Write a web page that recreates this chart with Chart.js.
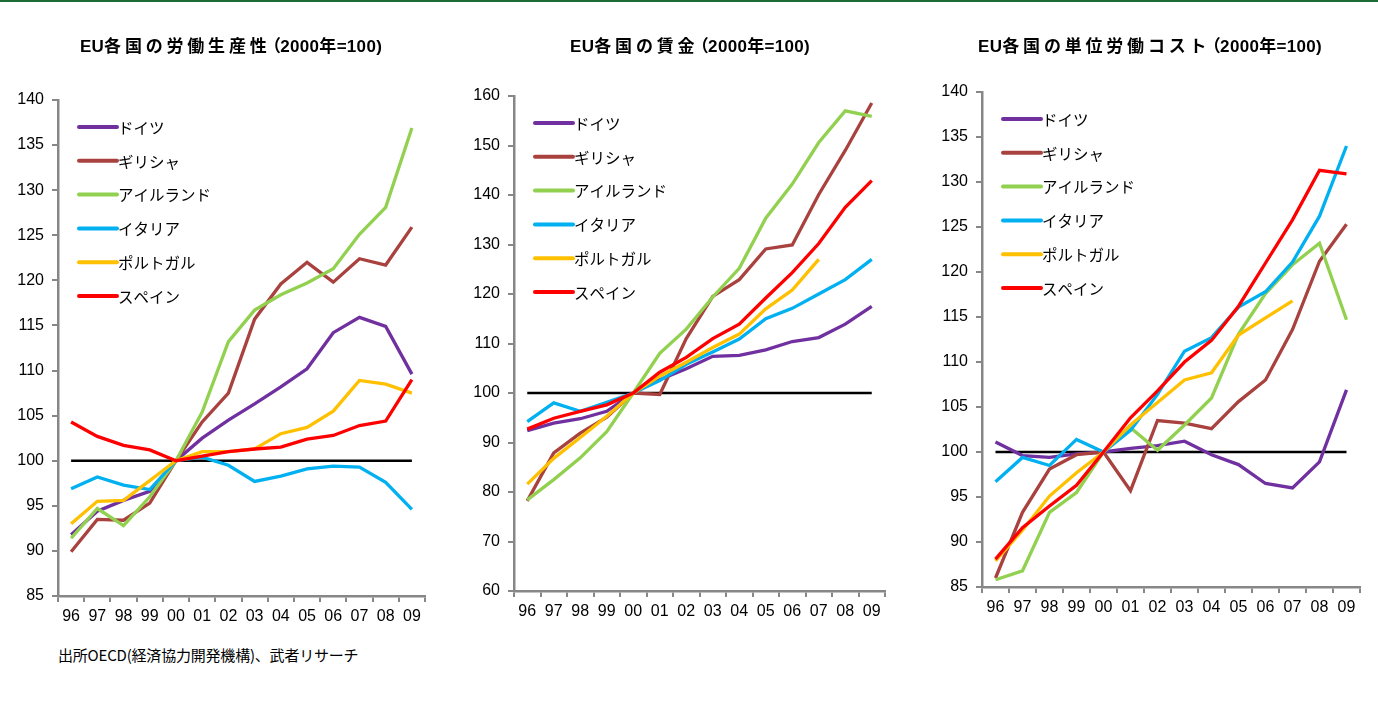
<!DOCTYPE html>
<html>
<head>
<meta charset="utf-8">
<script src="https://cdn.jsdelivr.net/npm/chart.js@4.4.1/dist/chart.umd.min.js"></script>
<style>
  html, body { margin: 0; padding: 0; background: #fff; }
  body { width: 1378px; height: 713px; position: relative; overflow: hidden; font-family: "Noto Sans CJK JP", sans-serif; }
  #topRule { position: absolute; left: 0; top: 0; width: 1378px; height: 2px; background: #1d6b36; }
  .box { position: absolute; top: 0; }
  #note { position: absolute; left: 58px; top: 644px; font-size: 15px; line-height: 22px; color: #000; letter-spacing: -0.2px; }
</style>
</head>
<body>
<div id="topRule"></div>
<div class="box" id="b1" style="left:0px;width:462px;height:640px"><canvas id="c1"></canvas></div>
<div class="box" id="b2" style="left:460px;width:460px;height:635px"><canvas id="c2"></canvas></div>
<div class="box" id="b3" style="left:925px;width:450px;height:631px"><canvas id="c3"></canvas></div>
<div id="note">出所OECD(経済協力開発機構)、武者リサーチ</div>
<script>
// ---- categories and series ----
const years = ['96', '97', '98', '99', '00', '01', '02', '03', '04', '05', '06', '07', '08', '09'];
const countries = ['ドイツ', 'ギリシャ', 'アイルランド', 'イタリア', 'ポルトガル', 'スペイン'];
const seriesColors = ['#7030a0', '#a9423f', '#92d050', '#00b0f0', '#ffc000', '#ff0000'];
const baseLine = [100, 100, 100, 100, 100, 100, 100, 100, 100, 100, 100, 100, 100, 100];

// 労働生産性
const prodGermany  = [91.8, 94.4, 95.6, 96.6, 100, 102.5, 104.5, 106.3, 108.2, 110.2, 114.2, 115.9, 114.9, 109.6];
const prodGreece   = [89.9, 93.5, 93.4, 95.3, 100, 104.3, 107.5, 115.7, 119.6, 122.0, 119.8, 122.4, 121.7, 125.9];
const prodIreland  = [91.4, 94.7, 92.8, 96.0, 100, 105.4, 113.2, 116.7, 118.4, 119.7, 121.3, 125.1, 128.1, 136.9];
const prodItaly    = [96.9, 98.2, 97.3, 96.8, 100, 100.4, 99.5, 97.7, 98.3, 99.1, 99.4, 99.3, 97.6, 94.6];
const prodPortugal = [93.0, 95.5, 95.6, 97.8, 100, 101.0, 101.0, 101.3, 103.0, 103.7, 105.5, 108.9, 108.5, 107.5];
const prodSpain    = [104.3, 102.7, 101.7, 101.2, 100, 100.5, 101.0, 101.3, 101.5, 102.4, 102.8, 103.9, 104.4, 109.0];

// 賃金
const wageGermany  = [92.4, 93.9, 94.8, 96.3, 100, 102.7, 104.9, 107.4, 107.6, 108.7, 110.4, 111.2, 113.9, 117.5];
const wageGreece   = [78.2, 87.9, 91.9, 95.1, 100, 99.7, 111.0, 119.5, 122.9, 129.1, 129.9, 140.1, 149.0, 158.6];
const wageIreland  = [78.4, 82.5, 86.9, 92.2, 100, 108.0, 112.9, 119.4, 125.2, 135.3, 142.2, 150.6, 157.0, 155.9];
const wageItaly    = [94.2, 98.0, 96.3, 98.1, 100, 102.5, 105.8, 108.3, 110.9, 115.0, 117.1, 120.0, 122.9, 127.0];
const wagePortugal = [81.6, 86.8, 91.0, 95.3, 100, 103.4, 106.2, 109.2, 111.9, 117.0, 120.8, 127.0, null, null];
const wageSpain    = [92.7, 94.9, 96.3, 97.6, 100, 104.2, 107.2, 111.0, 113.9, 119.2, 124.3, 130.2, 137.5, 142.9];

// 単位労働コスト
const ulcGermany  = [101.1, 99.6, 99.4, 99.8, 100, 100.4, 100.7, 101.2, 99.7, 98.6, 96.5, 96.0, 98.9, 106.9];
const ulcGreece   = [86.0, 93.3, 98.1, 99.7, 100, 95.7, 103.5, 103.2, 102.6, 105.6, 108.0, 113.6, 121.2, 125.3];
const ulcIreland  = [85.8, 86.8, 93.3, 95.5, 100, 102.7, 100.2, 103.0, 106.0, 113.1, 117.6, 120.8, 123.2, 114.7];
const ulcItaly    = [96.7, 99.4, 98.5, 101.4, 100, 102.4, 106.4, 111.2, 112.7, 116.1, 117.8, 121.1, 126.2, 134.0];
const ulcPortugal = [87.9, 91.3, 95.1, 97.7, 100, 103.0, 105.5, 108.0, 108.8, 113.0, 114.9, 116.8, null, null];
const ulcSpain    = [88.1, 91.6, 94.0, 96.3, 100, 103.8, 106.8, 110.0, 112.4, 116.2, 121.0, 125.8, 131.3, 130.9];

const tickFont = { family: '"Liberation Sans", Arial, sans-serif', size: 16 };
const axisGray = '#878787';

// chart heading: wide-set kanji/kana, tight Latin glyphs and brackets
const spacedTitle = {
  id: 'spacedTitle',
  afterDraw(chart, args, opts) {
    const ctx = chart.ctx;
    ctx.save();
    ctx.font = 'bold 17px "Liberation Sans", "Noto Sans CJK JP", sans-serif';
    ctx.fillStyle = '#000';
    ctx.textBaseline = 'middle';
    ctx.textAlign = 'left';
    const chars = Array.from(opts.text);
    const wide = c => c !== '（' && c.charCodeAt(0) > 0x2000;
    const adv = chars.map((c, i) => {
      let w = ctx.measureText(c).width + 0.3;
      if (c === '（') w -= 4;
      if (wide(c) && i + 1 < chars.length && wide(chars[i + 1])) w += 3.5;
      return w;
    });
    const total = adv.reduce((s, v) => s + v, 0);
    let x = opts.centerX - total / 2;
    chars.forEach((c, i) => { ctx.fillText(c, c === '（' ? x - 3 : x, opts.y); x += adv[i]; });
    ctx.restore();
  }
};

// legend drawn inside the plot area, upper left
const innerLegend = {
  id: 'innerLegend',
  afterDatasetsDraw(chart) {
    const ctx = chart.ctx;
    const a = chart.chartArea;
    ctx.save();
    ctx.font = '15.5px "Noto Sans CJK JP", sans-serif';
    ctx.textBaseline = 'middle';
    ctx.textAlign = 'left';
    let row = 0;
    chart.data.datasets.forEach(ds => {
      if (!ds.inLegend) return;
      const y = a.top + 27 + row * 33.8;
      ctx.strokeStyle = ds.borderColor;
      ctx.lineWidth = 4;
      ctx.lineCap = 'round';
      ctx.beginPath();
      ctx.moveTo(a.left + 21, y);
      ctx.lineTo(a.left + 59, y);
      ctx.stroke();
      ctx.fillStyle = '#000';
      ctx.fillText(ds.label, a.left + 60, y + 1);
      row++;
    });
    ctx.restore();
  }
};

function buildChart(canvasId, titleText, titleCenter, seriesList, yMin, yMax, yStep, yAxisWidth, plotTop, padRight) {
  const datasets = seriesList.map((vals, i) => ({
    label: countries[i],
    data: vals,
    borderColor: seriesColors[i],
    backgroundColor: seriesColors[i],
    borderWidth: 3.3,
    pointRadius: 0,
    tension: 0,
    inLegend: true,
    order: 6 - i
  }));
  datasets.push({
    label: '100',
    data: baseLine,
    borderColor: '#000',
    borderWidth: 2.5,
    pointRadius: 0,
    inLegend: false,
    order: 7
  });
  return new Chart(document.getElementById(canvasId), {
    type: 'line',
    data: { labels: years, datasets },
    plugins: [innerLegend, spacedTitle],
    options: {
      responsive: true,
      maintainAspectRatio: false,
      animation: false,
      events: [],
      layout: { padding: { left: 0, right: padRight, top: plotTop, bottom: 0 } },
      plugins: {
        legend: { display: false },
        tooltip: { enabled: false },
        title: { display: false },
        spacedTitle: { text: titleText, centerX: titleCenter, y: 47 }
      },
      scales: {
        x: {
          type: 'category',
          offset: true,
          grid: { offset: true, drawOnChartArea: false, drawTicks: true, tickLength: 6, color: axisGray, lineWidth: 2 },
          border: { display: true, color: axisGray, width: 2.5 },
          ticks: { font: tickFont, color: '#000', padding: 5, maxRotation: 0, autoSkip: false },
          afterFit(s) { s.height = 44; }
        },
        y: {
          min: yMin,
          max: yMax,
          grid: { drawOnChartArea: false, drawTicks: true, tickLength: 6, color: axisGray, lineWidth: 2 },
          border: { display: true, color: axisGray, width: 2.5 },
          ticks: { stepSize: yStep, font: tickFont, color: '#000', padding: 8 },
          afterFit(s) { s.width = yAxisWidth; }
        }
      }
    }
  });
}

buildChart('c1', 'EU各国の労働生産性（2000年=100)', 231,
  [prodGermany, prodGreece, prodIreland, prodItaly, prodPortugal, prodSpain],
  85, 140, 5, 58, 100, 37);
buildChart('c2', 'EU各国の賃金（2000年=100)', 230,
  [wageGermany, wageGreece, wageIreland, wageItaly, wagePortugal, wageSpain],
  60, 160, 10, 54, 96, 35);
buildChart('c3', 'EU各国の単位労働コスト（2000年=100)', 225,
  [ulcGermany, ulcGreece, ulcIreland, ulcItaly, ulcPortugal, ulcSpain],
  85, 140, 5, 57, 92, 15);
</script>
</body>
</html>
